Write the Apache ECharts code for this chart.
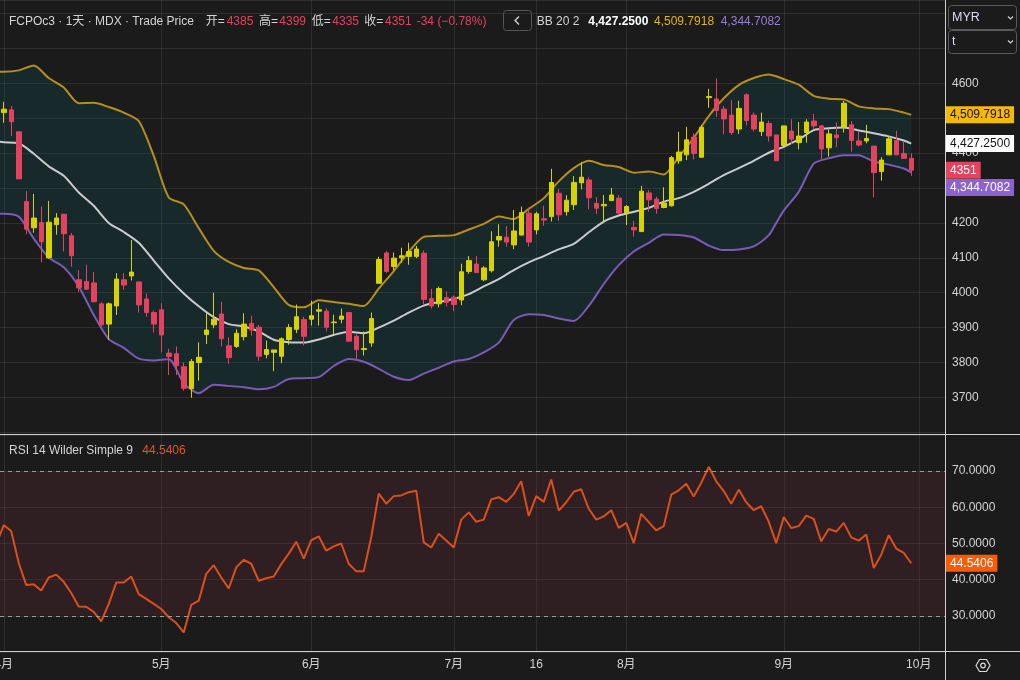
<!DOCTYPE html>
<html><head><meta charset="utf-8">
<script src="https://cdn.jsdelivr.net/npm/echarts@6/dist/echarts.min.js"></script>
<style>html,body{margin:0;padding:0;background:#1b1b1b;}#c{width:1020px;height:680px;}</style>
</head><body><div id="c"></div>
<script>
// ---- categories (trading days) ----
const holidays = ['2024-04-10','2024-05-01','2024-05-22','2024-05-23','2024-06-17','2024-08-30','2024-09-02','2024-09-16','2024-09-17'];
const futureSlots = 4;
const markDay = '2024-07-16';

// ---- OHLC ----
const openP  = [4516,4524,4461,4261,4186,4201,4100,4195,4225,4163,4037,4032,4028,3968,3910,3962,4037,4048,4031,3982,3943,3951,3827,3825,3788,3725,3800,3880,3908,3939,3848,3846,3874,3912,3901,3823,3829,3818,3866,3895,3923,3924,3947,3947,3914,3924,3943,3875,3837,3856,4027,4114,4075,4100,4104,4104,4113,3983,3968,3986,3987,3979,4061,4082,4037,4063,4151,4159,4137,4165,4228,4180,4212,4218,4285,4232,4252,4315,4323,4256,4249,4264,4271,4229,4187,4175,4286,4268,4244,4249,4378,4395,4446,4388,4559,4555,4526,4509,4469,4567,4509,4462,4485,4452,4422,4463,4430,4459,4492,4478,4415,4452,4474,4481,4435,4435,4420,4347,4395,4436,4399,4385];
const closeP = [4526,4490,4326,4182,4214,4146,4202,4214,4169,4106,4014,4010,3974,3908,3968,4039,4022,4059,3965,3943,3910,3879,3817,3791,3726,3803,3815,3893,3924,3868,3814,3884,3910,3893,3818,3837,3836,3868,3900,3931,3875,3934,3951,3901,3916,3933,3861,3837,3840,3926,4095,4061,4099,4106,4118,4125,3981,3962,4012,3972,3966,4060,4092,4058,4071,4146,4161,4145,4177,4230,4145,4226,4208,4316,4223,4265,4316,4331,4272,4242,4253,4280,4228,4247,4180,4291,4266,4241,4257,4387,4403,4438,4399,4474,4562,4522,4498,4459,4528,4493,4469,4489,4449,4378,4478,4440,4449,4489,4478,4412,4455,4444,4543,4436,4423,4442,4344,4380,4441,4395,4385,4351];
const lowP   = [4487,4449,4326,4167,4172,4087,4097,4166,4118,4075,4002,4008,3972,3903,3865,3936,4008,4035,3943,3931,3886,3829,3764,3764,3719,3699,3748,3853,3898,3846,3796,3842,3863,3877,3805,3812,3775,3798,3851,3884,3849,3906,3906,3889,3882,3912,3861,3807,3820,3845,4027,4056,4065,4086,4080,4099,3966,3955,3958,3960,3947,3964,4054,4056,4033,4058,4132,4132,4125,4165,4132,4167,4192,4204,4206,4221,4237,4296,4239,4225,4199,4264,4223,4194,4161,4175,4232,4226,4242,4247,4369,4380,4382,4388,4530,4504,4454,4452,4455,4479,4462,4449,4433,4378,4422,4426,4411,4430,4468,4382,4390,4417,4459,4404,4419,4428,4273,4321,4395,4395,4383,4335];
const highP  = [4547,4535,4461,4291,4283,4247,4263,4228,4225,4171,4065,4080,4059,3973,3972,4056,4056,4151,4031,3998,3949,3970,3839,3846,3800,3810,3858,3941,4000,3974,3872,3895,3941,3934,3908,3863,3836,3872,3910,3966,3931,3977,3970,3955,3937,3955,3943,3882,3889,3943,4103,4120,4115,4129,4143,4134,4121,4011,4018,4003,3992,4083,4105,4105,4076,4176,4196,4191,4237,4247,4244,4232,4249,4355,4297,4279,4334,4374,4331,4274,4280,4300,4280,4251,4206,4306,4294,4275,4302,4392,4461,4475,4457,4481,4584,4614,4535,4552,4550,4571,4516,4516,4493,4452,4478,4497,4489,4497,4512,4481,4468,4488,4550,4492,4462,4481,4420,4388,4449,4464,4433,4399];

// ---- Bollinger Bands (20, 2), read at these candle indices (-1 = the candle just off the left edge) ----
const bbIdx    = [-1,0,2,4,6,8,10,12,14,16,18,20,22,24,26,28,30,32,34,36,38,40,42,44,46,48,50,52,54,56,58,60,62,64,66,68,70,72,74,76,78,80,82,84,86,88,90,92,94,96,98,100,102,103,104,106,108,110,112,114,116,118,120,121];
const bbUpper  = [4633,4633,4637,4651,4615,4588,4543,4544,4532,4516,4492,4392,4273,4253,4185,4120,4088,4071,4064,4016,3965,3958,3978,3973,3968,3962,4012,4062,4117,4160,4163,4165,4181,4197,4218,4211,4240,4271,4319,4357,4378,4366,4360,4344,4347,4339,4389,4444,4506,4557,4595,4615,4625,4620,4612,4596,4564,4556,4554,4534,4528,4526,4516,4509.7918];
const bbMiddle = [4434,4431,4428,4398,4362,4335,4287,4249,4200,4174,4143,4092,4041,3998,3961,3930,3910,3903,3889,3865,3858,3857,3866,3879,3888,3884,3900,3920,3943,3963,3973,3982,3996,4018,4039,4065,4087,4105,4124,4140,4173,4204,4221,4232,4243,4261,4271,4289,4312,4337,4357,4378,4401,4410,4418,4439,4466,4471,4473,4465,4457,4448,4436,4427.25];
const bbLower  = [4226,4226,4218,4155,4101,4073,4018,3936,3867,3842,3811,3806,3809,3741,3712,3736,3733,3729,3723,3730,3753,3755,3758,3790,3810,3802,3782,3759,3750,3768,3785,3803,3810,3829,3857,3922,3938,3936,3926,3919,3962,4025,4079,4118,4143,4167,4165,4158,4135,4122,4124,4133,4165,4200,4235,4289,4370,4385,4394,4394,4376,4367,4356,4344.7082];

// ---- RSI 14 (first value belongs to the candle just off the left edge, index -1) ----
const rsi = [49.7,55.1,53.4,44.6,38.5,38.7,37.0,40.6,41.4,39.4,36.3,32.6,32.5,31.1,28.5,33.3,39.2,39.2,40.9,36.0,34.7,33.3,31.9,29.6,28.0,25.4,33.0,34.2,41.6,44.0,40.6,37.6,43.4,45.5,44.4,39.7,40.4,40.9,44.3,47.2,50.5,45.8,50.9,52.0,48.0,49.2,50.0,44.4,42.3,42.3,51.8,63.8,61.0,63.1,63.3,64.2,64.6,50.3,48.9,52.7,50.8,48.9,56.6,58.6,56.0,56.6,62.2,62.8,61.5,63.7,67.2,57.6,63.1,61.5,67.7,59.1,61.4,64.3,65.0,59.6,56.6,57.5,59.2,54.3,55.7,50.1,58.2,55.9,53.6,54.8,63.5,64.7,66.5,63.0,66.8,71.2,67.2,64.5,61.0,64.9,61.4,59.2,60.3,56.0,50.1,57.3,54.3,54.8,57.7,56.8,50.6,54.0,53.3,55.7,51.7,50.8,52.5,43.2,46.9,52.3,48.6,47.4,44.5406];
const rsiStartIdx = -1;
const rsiBands = [30, 70];
const rsiTicks = [20, 80, 10];
const priceTicks = [3700, 4600, 100];

// ---- build categories ----
const dates = [];
(function(){
  const d = new Date(Date.UTC(2024,3,1));
  while (dates.length < closeP.length + futureSlots) {
    const s = d.toISOString().slice(0,10), wd = d.getUTCDay();
    if (wd !== 0 && wd !== 6 && holidays.indexOf(s) < 0) dates.push(s);
    d.setUTCDate(d.getUTCDate()+1);
  }
})();
const labelAt = {};
dates.forEach((s,i)=>{
  const m = +s.slice(5,7);
  if (i === 0 || m !== +dates[i-1].slice(5,7)) labelAt[i] = m + '月';
  if (s === markDay) labelAt[i] = String(+s.slice(8,10));
});

const FONT = '"Liberation Sans", Arial, "Noto Sans CJK SC", sans-serif';
const UP = '#d6d300', DOWN = '#e3435f';
const GRID_C = 'rgba(255,255,255,0.085)';
const TXT = '#d4d4d4';
const last = closeP.length - 1;
const f4 = v => v.toLocaleString('en-US',{minimumFractionDigits:4, maximumFractionDigits:4});
const O = openP[last], H = highP[last], L = lowP[last], C = closeP[last], PC = closeP[last-1];
const chg = C - PC, pct = chg / PC * 100;
const bU = bbUpper[bbUpper.length-1], bM = bbMiddle[bbMiddle.length-1], bL = bbLower[bbLower.length-1];
const rLast = rsi[rsi.length-1];

const candleData = closeP.map((c,i)=>[openP[i], c, lowP[i], highP[i]]);
const pair = arr => bbIdx.map((x,k)=>[x, arr[k]]);
const rsiData = rsi.map((v,k)=>[k + rsiStartIdx, v]);

const catAxis = (g, showLabel) => ({
  type:'category', gridIndex:g, data:dates, boundaryGap:true,
  axisLine:{show:false}, axisTick:{show:false},
  axisLabel:{show:showLabel, interval:(i)=> (i in labelAt), formatter:(v,i)=> labelAt[i] || '',
    color:TXT, fontSize:12, margin:7, fontFamily:FONT, alignMinLabel:'center', alignMaxLabel:'center', hideOverlap:false},
  splitLine:{show:true, interval:(i)=> (i in labelAt), alignWithLabel:true, lineStyle:{color:GRID_C, width:1}}
});
const idxAxis = (g) => ({type:'value', gridIndex:g, min:-0.5, max:dates.length-0.5, show:false, position:'top'});

const NOLINE = {color:'rgba(0,0,0,0)', width:0, opacity:1};
const tagLabel = (text, bg, fg, extra) => Object.assign({
  show:true, position:'end', distance:1, formatter:text, backgroundColor:bg, color:fg, opacity:1,
  fontSize:12, fontFamily:FONT, padding:[3,4,2,4]
}, extra || {});

const headerParts = [
  ['FCPOc3 · 1天 · MDX · Trade Price', 9, TXT],
  ['开=', 205.7, TXT], [String(O), 226.7, DOWN],
  ['高=', 259, TXT], [String(H), 279.3, DOWN],
  ['低=', 311.7, TXT], [String(L), 332.3, DOWN],
  ['收=', 364.3, TXT], [String(C), 385, DOWN],
  [(chg>0?'+':'') + chg + ' (' + (pct<0?'\u2212':'+') + Math.abs(pct).toFixed(2) + '%)', 416.7, DOWN],
  ['BB 20 2', 536.7, TXT],
  [f4(bM), 588.3, '#ffffff', 'bold'],
  [f4(bU), 654, '#e8b30c'],
  [f4(bL), 720.7, '#9a7ddc'],
  ['RSI 14 Wilder Simple 9', 9, TXT, null, 450.7],
  [rLast.toFixed(4), 142.3, '#e8561c', null, 450.7]
];
const graphics = headerParts.map(p => ({
  type:'text', x:p[1], y:(p[4] || 21.7), z:50,
  style:{text:p[0], fill:p[2], fontSize:12, fontFamily:FONT, fontWeight:p[3]||'normal', verticalAlign:'middle', textVerticalAlign:'middle'}
}));
graphics.push(
  {type:'line', z:40, shape:{x1:945.5,y1:0,x2:945.5,y2:680}, style:{stroke:'#cfcfcf', lineWidth:1}},
  {type:'line', z:40, shape:{x1:0,y1:434.5,x2:1020,y2:434.5}, style:{stroke:'#cfcfcf', lineWidth:1}},
  {type:'line', z:40, shape:{x1:0,y1:651.5,x2:1020,y2:651.5}, style:{stroke:'#cfcfcf', lineWidth:1}},
  {type:'rect', z:50, shape:{x:503.5,y:10.5,width:28,height:20,r:3}, style:{fill:'none', stroke:'#555', lineWidth:1}},
  {type:'polyline', z:51, shape:{points:[[519,16.5],[515,20.5],[519,24.5]]}, style:{stroke:'#d0d0d0', lineWidth:1.4, fill:'none'}},
  {type:'rect', z:50, shape:{x:948.5,y:5.5,width:68,height:24,r:3}, style:{fill:'#1b1b1b', stroke:'#5a5a5a', lineWidth:1}},
  {type:'text', z:51, x:952, y:18, style:{text:'MYR', fill:'#dcdcf2', fontSize:12.5, fontFamily:FONT, verticalAlign:'middle', textVerticalAlign:'middle'}},
  {type:'polyline', z:51, shape:{points:[[1008,16.5],[1010.5,19],[1013,16.5]]}, style:{stroke:'#cfcfcf', lineWidth:1.2, fill:'none'}},
  {type:'rect', z:50, shape:{x:948.5,y:30.5,width:68,height:23,r:3}, style:{fill:'#1b1b1b', stroke:'#5a5a5a', lineWidth:1}},
  {type:'text', z:51, x:952, y:42, style:{text:'t', fill:'#dcdcf2', fontSize:12.5, fontFamily:FONT, verticalAlign:'middle', textVerticalAlign:'middle'}},
  {type:'polyline', z:51, shape:{points:[[1008,40.5],[1010.5,43],[1013,40.5]]}, style:{stroke:'#cfcfcf', lineWidth:1.2, fill:'none'}},
  {type:'polygon', z:51, shape:{points:[[976,665.5],[979.5,659.5],[986.5,659.5],[990,665.5],[986.5,671.5],[979.5,671.5]]}, style:{fill:'none', stroke:'#d8d8d8', lineWidth:1.2}},
  {type:'circle', z:51, shape:{cx:983,cy:665.5,r:2.3}, style:{fill:'none', stroke:'#d8d8d8', lineWidth:1.2}}
);

const chart = echarts.init(document.getElementById('c'), null, {renderer:'canvas'});
chart.setOption({
  backgroundColor:'#1b1b1b',
  animation:false,
  textStyle:{fontFamily:FONT},
  grid:[
    {left:0, right:75, top:0, height:434, containLabel:false, outerBoundsMode:'none'},
    {left:0, right:75, top:435, height:217, containLabel:false, outerBoundsMode:'none'}
  ],
  xAxis:[
    catAxis(0, false),
    idxAxis(0),
    catAxis(1, true),
    idxAxis(1)
  ],
  yAxis:[
    {type:'value', gridIndex:0, position:'right', min:3595.1, max:4838.7, minInterval:100, maxInterval:100, splitNumber:12,
     axisLine:{show:false}, axisTick:{show:false},
     axisLabel:{color:TXT, fontSize:12, margin:7, fontFamily:FONT, showMinLabel:false, showMaxLabel:false,
       formatter:v => (v >= priceTicks[0] && v <= priceTicks[1] + 200) ? String(v) : ''},
     splitLine:{lineStyle:{color:GRID_C, width:1}}},
    {type:'value', gridIndex:1, position:'right', min:rsiTicks[0], max:rsiTicks[1], interval:rsiTicks[2],
     axisLine:{show:false}, axisTick:{show:false},
     axisLabel:{color:TXT, fontSize:12, margin:7, fontFamily:FONT, showMinLabel:false, showMaxLabel:false, formatter:v=>v.toFixed(4)},
     splitLine:{lineStyle:{color:GRID_C, width:1}}}
  ],
  series:[
    {type:'custom', name:'bbFill', xAxisIndex:1, yAxisIndex:0, z:1, silent:true, clip:true,
     data:pair(bbMiddle), encode:{x:0, y:1},
     renderItem:(params, api)=>{
       if (params.dataIndex !== 0) return null;
       const pts = [];
       for (let k=0;k<bbIdx.length;k++) pts.push(api.coord([bbIdx[k], bbUpper[k]]));
       for (let k=bbIdx.length-1;k>=0;k--) pts.push(api.coord([bbIdx[k], bbLower[k]]));
       return {type:'polygon', shape:{points:pts}, style:{fill:'rgba(8,100,104,0.2)'}};
     }},
    {type:'line', name:'upper', xAxisIndex:1, yAxisIndex:0, z:2, data:pair(bbUpper), showSymbol:false, smooth:0.25, clip:true,
     lineStyle:{color:'#b68f1c', width:2}},
    {type:'line', name:'middle', xAxisIndex:1, yAxisIndex:0, z:2, data:pair(bbMiddle), showSymbol:false, smooth:0.25, clip:true,
     lineStyle:{color:'#c8cccc', width:2}},
    {type:'line', name:'lower', xAxisIndex:1, yAxisIndex:0, z:2, data:pair(bbLower), showSymbol:false, smooth:0.25, clip:true,
     lineStyle:{color:'#7a5bb6', width:2}},
    {type:'candlestick', name:'FCPOc3', xAxisIndex:0, yAxisIndex:0, z:3, data:candleData, barWidth:5,
     itemStyle:{color:UP, color0:DOWN, borderColor:UP, borderColor0:DOWN, borderWidth:1},
     markLine:{symbol:'none', silent:true, animation:false, lineStyle:NOLINE,
       data:[
         {yAxis:bU, lineStyle:NOLINE, label:tagLabel(f4(bU), '#f6b90a', '#111')},
         {yAxis:bM, lineStyle:NOLINE, label:tagLabel(f4(bM), '#ffffff', '#111')},
         {yAxis:C, lineStyle:NOLINE, label:tagLabel(String(C), DOWN, '#fff')},
         {yAxis:bL, lineStyle:NOLINE, label:tagLabel(f4(bL), '#8b62d0', '#fff', {offset:[0,15]})}
       ]}},
    {type:'line', name:'RSI', xAxisIndex:3, yAxisIndex:1, z:3, data:rsiData, showSymbol:false, clip:true,
     lineStyle:{color:'#d9501c', width:2},
     markArea:{silent:true, itemStyle:{color:'rgba(120,40,58,0.22)'}, data:[[{yAxis:rsiBands[0], x:0},{yAxis:rsiBands[1], x:945}]]},
     markLine:{symbol:'none', silent:true, animation:false,
       data:[
         {yAxis:rsiBands[1], lineStyle:{color:'#9c9c9c', type:[4,4], width:1}, label:{show:false}},
         {yAxis:rsiBands[0], lineStyle:{color:'#9c9c9c', type:[4,4], width:1}, label:{show:false}},
         {yAxis:rLast, lineStyle:NOLINE, label:tagLabel(rLast.toFixed(4), '#ff5a00', '#fff')}
       ]}}
  ],
  graphic:graphics
});
</script></body></html>
